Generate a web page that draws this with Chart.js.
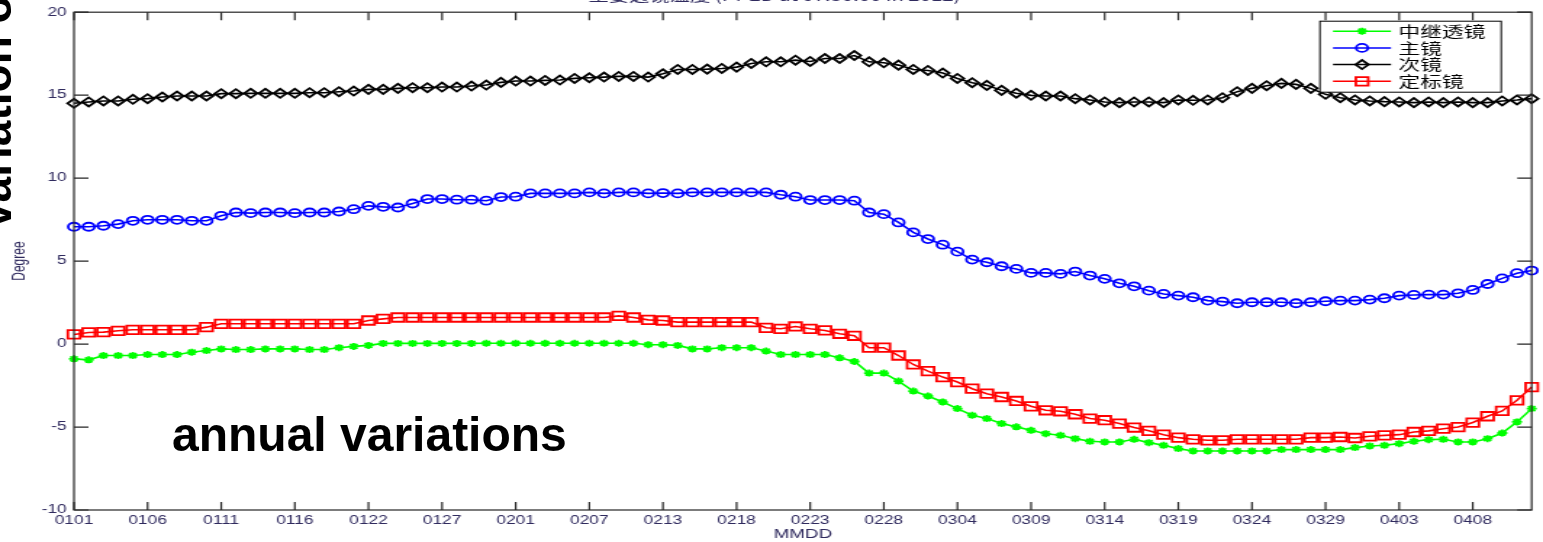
<!DOCTYPE html>
<html>
<head>
<meta charset="utf-8">
<script src="https://cdn.jsdelivr.net/npm/chart.js@4.4.1/dist/chart.umd.min.js"></script>
<style>
  html, body { margin: 0; padding: 0; background: #fff; overflow: hidden; }
  #wrap { position: relative; width: 1543px; height: 542px; }
  #chart { position: absolute; left: 0; top: 0; }
  .note { position: absolute; font-family: "Liberation Sans", Arial, sans-serif; font-weight: bold; color: #000; white-space: nowrap; line-height: 1; }
  #annual { left: 172px; top: 411px; font-size: 48px; }
  #side { left: -28px; top: 228px; font-size: 46px; transform: rotate(-90deg); transform-origin: 0 0; }
</style>
</head>
<body>
<div id="wrap">
  <!-- the plot was stretched sideways in the source, so the canvas is drawn narrow and shown wide -->
  <canvas id="chart" width="1064" height="542" style="width:1543px;height:542px"></canvas>
  <div class="note" id="side">variation of</div>
  <div class="note" id="annual">annual variations</div>
</div>
<script>
const tickLabels = ['0101', '0106', '0111', '0116', '0122', '0127', '0201', '0207', '0213', '0218',
  '0223', '0228', '0304', '0309', '0314', '0319', '0324', '0329', '0403', '0408'];
const pointsPerTick = 5;
const seriesNames = ['中继透镜', '主镜', '次镜', '定标镜'];

const relayLens = [
  -0.89, -0.95, -0.69, -0.69, -0.69, -0.63, -0.63, -0.63, -0.49, -0.39,
  -0.29, -0.33, -0.33, -0.29, -0.29, -0.29, -0.33, -0.33, -0.22, -0.14,
  -0.08, 0.04, 0.04, 0.04, 0.04, 0.04, 0.04, 0.04, 0.05, 0.05,
  0.05, 0.05, 0.05, 0.05, 0.05, 0.05, 0.05, 0.05, 0.05, -0.04,
  -0.04, -0.08, -0.29, -0.29, -0.22, -0.22, -0.22, -0.42, -0.63, -0.63,
  -0.63, -0.63, -0.83, -1.05, -1.75, -1.75, -2.23, -2.83, -3.13, -3.49,
  -3.89, -4.29, -4.49, -4.79, -4.99, -5.20, -5.40, -5.50, -5.70, -5.86,
  -5.90, -5.90, -5.74, -5.94, -6.10, -6.30, -6.44, -6.44, -6.44, -6.44,
  -6.44, -6.44, -6.36, -6.36, -6.36, -6.36, -6.36, -6.24, -6.14, -6.10,
  -6.00, -5.86, -5.76, -5.74, -5.90, -5.90, -5.70, -5.36, -4.69, -3.89
];
const primaryMirror = [
  7.07, 7.07, 7.13, 7.23, 7.43, 7.49, 7.49, 7.49, 7.43, 7.43,
  7.73, 7.93, 7.89, 7.93, 7.93, 7.89, 7.93, 7.93, 7.99, 8.13,
  8.33, 8.27, 8.23, 8.47, 8.74, 8.74, 8.70, 8.70, 8.64, 8.86,
  8.88, 9.08, 9.08, 9.08, 9.08, 9.14, 9.08, 9.14, 9.14, 9.08,
  9.10, 9.08, 9.14, 9.14, 9.14, 9.14, 9.14, 9.14, 9.00, 8.88,
  8.68, 8.68, 8.68, 8.64, 7.93, 7.83, 7.33, 6.73, 6.33, 5.99,
  5.57, 5.09, 4.93, 4.69, 4.53, 4.29, 4.29, 4.23, 4.37, 4.13,
  3.93, 3.66, 3.48, 3.22, 3.02, 2.92, 2.82, 2.62, 2.56, 2.46,
  2.52, 2.52, 2.52, 2.46, 2.52, 2.58, 2.62, 2.62, 2.68, 2.76,
  2.92, 2.96, 2.98, 2.98, 3.06, 3.26, 3.62, 3.96, 4.27, 4.43
];
const secondaryMirror = [
  14.51, 14.59, 14.65, 14.65, 14.75, 14.79, 14.89, 14.95, 14.95, 14.95,
  15.09, 15.09, 15.11, 15.11, 15.11, 15.11, 15.15, 15.15, 15.21, 15.25,
  15.35, 15.35, 15.41, 15.45, 15.45, 15.49, 15.49, 15.55, 15.61, 15.77,
  15.85, 15.85, 15.89, 15.91, 16.01, 16.05, 16.09, 16.13, 16.13, 16.09,
  16.29, 16.55, 16.55, 16.57, 16.61, 16.69, 16.91, 17.01, 17.01, 17.11,
  17.03, 17.21, 17.21, 17.39, 17.01, 16.95, 16.81, 16.55, 16.49, 16.33,
  16.01, 15.75, 15.59, 15.29, 15.12, 14.99, 14.95, 14.95, 14.79, 14.71,
  14.59, 14.55, 14.59, 14.59, 14.55, 14.71, 14.69, 14.71, 14.85, 15.21,
  15.41, 15.57, 15.71, 15.65, 15.41, 15.05, 14.85, 14.71, 14.65, 14.61,
  14.59, 14.55, 14.59, 14.55, 14.59, 14.55, 14.55, 14.65, 14.71, 14.79
];
const calibMirror = [
  0.58, 0.70, 0.72, 0.80, 0.86, 0.86, 0.86, 0.86, 0.86, 1.02,
  1.22, 1.22, 1.22, 1.22, 1.22, 1.22, 1.22, 1.22, 1.22, 1.22,
  1.42, 1.52, 1.60, 1.60, 1.60, 1.60, 1.60, 1.60, 1.60, 1.60,
  1.60, 1.60, 1.60, 1.60, 1.60, 1.60, 1.60, 1.70, 1.60, 1.46,
  1.42, 1.32, 1.32, 1.32, 1.32, 1.32, 1.32, 0.98, 0.92, 1.06,
  0.92, 0.82, 0.62, 0.50, -0.22, -0.22, -0.69, -1.23, -1.63, -1.99,
  -2.29, -2.69, -2.99, -3.19, -3.43, -3.75, -3.99, -4.05, -4.23, -4.49,
  -4.59, -4.79, -5.03, -5.23, -5.46, -5.64, -5.74, -5.80, -5.80, -5.74,
  -5.74, -5.74, -5.74, -5.74, -5.64, -5.64, -5.60, -5.66, -5.56, -5.50,
  -5.46, -5.30, -5.23, -5.10, -5.00, -4.73, -4.35, -4.03, -3.39, -2.59
];

// one category per reading, only every 5th one carries a date label
const labels = relayLens.map((v, i) => i % pointsPerTick === 0 ? (tickLabels[i / pointsPerTick] || '') : '');

const inkColor = '#2f2a5e';
const font = '"Liberation Sans", Arial, sans-serif';

function series(name, values, color, style, radius, fill) {
  return {
    label: name,
    data: values,
    borderColor: color,
    borderWidth: 1.6,
    pointStyle: style,
    pointRadius: radius,
    pointBorderWidth: 1.8,
    pointBorderColor: color,
    pointBackgroundColor: fill,
    tension: 0,
    clip: false
  };
}

// MATLAB look: box, inward ticks on all four sides, legend with line + marker
const matlabFrame = {
  id: 'matlabFrame',
  afterDatasetsDraw(chart) {
    const { ctx, chartArea: a, scales: { x, y } } = chart;
    ctx.save();
    ctx.strokeStyle = '#262626';
    ctx.lineWidth = 1.2;
    ctx.strokeRect(a.left, a.top, a.right - a.left, a.bottom - a.top);
    ctx.beginPath();
    x.ticks.forEach((t, i) => {
      if (!t.label) return;
      const px = x.getPixelForTick(i);
      ctx.moveTo(px, a.bottom); ctx.lineTo(px, a.bottom - 8);
      ctx.moveTo(px, a.top); ctx.lineTo(px, a.top + 8);
    });
    y.ticks.forEach((t, i) => {
      const py = y.getPixelForTick(i);
      ctx.moveTo(a.left, py); ctx.lineTo(a.left + 10, py);
      ctx.moveTo(a.right, py); ctx.lineTo(a.right - 10, py);
    });
    ctx.stroke();

    // legend
    const lx = a.right - 146, ly = a.top + 9;
    ctx.fillStyle = '#fff';
    ctx.fillRect(lx, ly, 125, 71);
    ctx.strokeStyle = '#000';
    ctx.lineWidth = 1;
    ctx.strokeRect(lx, ly, 125, 71);
    chart.data.datasets.forEach((ds, i) => {
      const cy = ly + 10 + i * 16.7;
      ctx.strokeStyle = ds.borderColor;
      ctx.lineWidth = 1.5;
      ctx.beginPath();
      ctx.moveTo(lx + 9, cy); ctx.lineTo(lx + 49, cy);
      ctx.stroke();
      ctx.fillStyle = ds.pointBackgroundColor;
      ctx.lineWidth = ds.pointBorderWidth;
      Chart.helpers.drawPoint(ctx, { pointStyle: ds.pointStyle, radius: ds.pointRadius, borderWidth: ds.pointBorderWidth, rotation: 0 }, lx + 29, cy);
      ctx.fillStyle = '#000';
      ctx.font = '15px "Noto Sans CJK SC"';
      ctx.textAlign = 'left';
      ctx.textBaseline = 'middle';
      ctx.fillText(ds.label, lx + 54, cy);
    });

    // title, mostly cut off by the top edge in the source
    ctx.fillStyle = inkColor;
    ctx.font = '14px "Noto Sans CJK SC"';
    ctx.textAlign = 'center';
    ctx.textBaseline = 'alphabetic';
    ctx.fillText('主要透镜温度 (FY-2D at 07:30:00 in 2012)', 534, 1);
    ctx.restore();
  }
};

new Chart(document.getElementById('chart'), {
  type: 'line',
  data: {
    labels: labels,
    datasets: [
      series(seriesNames[0], relayLens, '#00ff00', 'star', 3.5, '#00ff00'),
      series(seriesNames[1], primaryMirror, '#0000ff', 'circle', 4, 'rgba(0,0,0,0)'),
      series(seriesNames[2], secondaryMirror, '#000000', 'rectRot', 4.5, 'rgba(0,0,0,0)'),
      series(seriesNames[3], calibMirror, '#ff0000', 'rect', 6, 'rgba(0,0,0,0)')
    ]
  },
  options: {
    responsive: false,
    animation: false,
    layout: { padding: { top: 11, right: 3, left: 0, bottom: 0 } },
    plugins: {
      legend: { display: false },
      tooltip: { enabled: false }
    },
    scales: {
      x: {
        grid: { display: false, drawTicks: false, tickLength: 0 },
        border: { display: false },
        ticks: {
          autoSkip: false,
          maxRotation: 0,
          padding: 3,
          color: inkColor,
          font: { family: font, size: 12 }
        },
        title: {
          display: true,
          text: 'MMDD',
          color: inkColor,
          padding: { top: 0, bottom: 0 },
          font: { family: font, size: 13 }
        },
        afterFit: s => { s.height = 32; }
      },
      y: {
        min: -10,
        max: 20,
        grid: { display: false, drawTicks: false, tickLength: 0 },
        border: { display: false },
        ticks: {
          stepSize: 5,
          padding: 5,
          color: inkColor,
          font: { family: font, size: 12 }
        },
        title: {
          display: true,
          text: 'Degree',
          color: inkColor,
          padding: { top: 6, bottom: 0 },
          font: { family: font, size: 12 }
        },
        afterFit: s => { s.width = 51; }
      }
    }
  },
  plugins: [matlabFrame]
});
</script>
</body>
</html>
